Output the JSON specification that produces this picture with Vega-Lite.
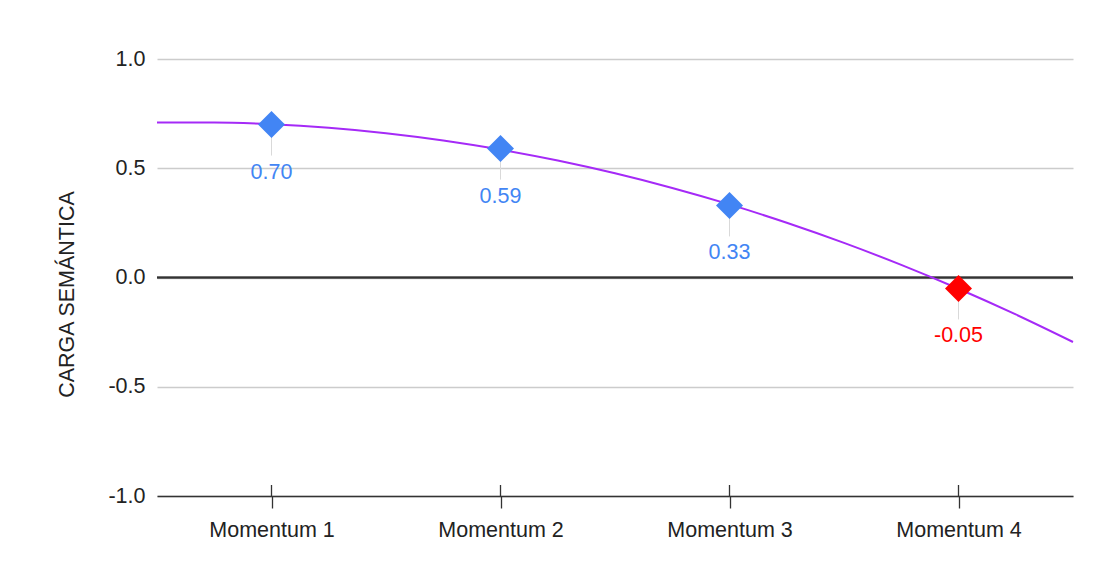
{
  "$schema": "https://vega.github.io/schema/vega-lite/v6.json",
  "autosize": "none",
  "width": 916,
  "height": 437,
  "padding": {"left": 157, "top": 59, "right": 26, "bottom": 90},
  "background": "white",
  "config": {
    "font": "Liberation Sans",
    "view": {"stroke": null},
    "axis": {"labelFont": "Liberation Sans", "titleFont": "Liberation Sans"}
  },
  "datasets": {
    "puntos": [
      {"momentum": 1, "carga": 0.70, "etiqueta": "0.70", "signo": "positivo"},
      {"momentum": 2, "carga": 0.59, "etiqueta": "0.59", "signo": "positivo"},
      {"momentum": 3, "carga": 0.33, "etiqueta": "0.33", "signo": "positivo"},
      {"momentum": 4, "carga": -0.05, "etiqueta": "-0.05", "signo": "negativo"}
    ],
    "tendencia": [
      {"momentum": 0.5, "carga": 0.7089},
      {"momentum": 0.75, "carga": 0.7094},
      {"momentum": 1.0, "carga": 0.7015},
      {"momentum": 1.25, "carga": 0.6852},
      {"momentum": 1.5, "carga": 0.6604},
      {"momentum": 1.75, "carga": 0.6272},
      {"momentum": 2.0, "carga": 0.5855},
      {"momentum": 2.25, "carga": 0.5354},
      {"momentum": 2.5, "carga": 0.4769},
      {"momentum": 2.75, "carga": 0.4099},
      {"momentum": 3.0, "carga": 0.3345},
      {"momentum": 3.25, "carga": 0.2507},
      {"momentum": 3.5, "carga": 0.1584},
      {"momentum": 3.75, "carga": 0.0577},
      {"momentum": 4.0, "carga": -0.0515},
      {"momentum": 4.25, "carga": -0.1691},
      {"momentum": 4.5, "carga": -0.2951}
    ]
  },
  "encoding": {
    "x": {
      "field": "momentum",
      "type": "quantitative",
      "scale": {"domain": [0.5, 4.5], "nice": false, "zero": false},
      "axis": {
        "title": null,
        "values": [1, 2, 3, 4],
        "labelExpr": "'Momentum ' + datum.value",
        "grid": false,
        "domainColor": "#333333",
        "domainWidth": 1.3,
        "tickColor": "#333333",
        "tickWidth": 1.3,
        "tickSize": 12,
        "labelPadding": 11,
        "labelFontSize": 21.5,
        "labelColor": "#222222"
      }
    },
    "y": {
      "field": "carga",
      "type": "quantitative",
      "scale": {"domain": [-1, 1], "nice": false},
      "axis": {
        "title": "CARGA SEMÁNTICA",
        "values": [-1, -0.5, 0, 0.5, 1],
        "labelExpr": "replace(format(datum.value, '.1f'), '−', '-')",
        "domain": false,
        "ticks": false,
        "grid": true,
        "gridColor": "#cccccc",
        "gridWidth": 1.3,
        "labelPadding": 12,
        "labelFontSize": 21.5,
        "labelColor": "#222222",
        "titleFontSize": 21.5,
        "titleFontWeight": "normal",
        "titleColor": "#222222",
        "titleAngle": -90,
        "titleAlign": "center",
        "titleBaseline": "alphabetic",
        "titleX": -84,
        "titleY": 235
      }
    }
  },
  "layer": [
    {
      "data": {"name": "puntos"},
      "mark": {"type": "rule", "color": "#333333", "strokeWidth": 1.3},
      "encoding": {"x": null, "y": {"datum": 0}}
    },
    {
      "data": {"name": "puntos"},
      "mark": {"type": "rule", "color": "#333333", "strokeWidth": 1.3, "y2Offset": -11},
      "encoding": {"y": {"datum": -1}, "y2": {"datum": -1}}
    },
    {
      "data": {"name": "tendencia"},
      "mark": {"type": "line", "color": "#A52AF7", "strokeWidth": 2, "interpolate": "monotone"},
      "encoding": {}
    },
    {
      "data": {"name": "puntos"},
      "mark": {"type": "rule", "color": "#d9d9d9", "strokeWidth": 1, "y2Offset": 31},
      "encoding": {"y2": {"field": "carga"}}
    },
    {
      "data": {"name": "puntos"},
      "mark": {"type": "point", "shape": "diamond", "filled": true, "size": 730, "opacity": 1},
      "encoding": {
        "color": {
          "field": "signo",
          "type": "nominal",
          "scale": {"domain": ["positivo", "negativo"], "range": ["#4285F4", "#FF0000"]},
          "legend": null
        }
      }
    },
    {
      "data": {"name": "puntos"},
      "mark": {"type": "text", "baseline": "alphabetic", "align": "center", "dy": 54, "fontSize": 21.5},
      "encoding": {
        "text": {"field": "etiqueta"},
        "color": {
          "field": "signo",
          "type": "nominal",
          "scale": {"domain": ["positivo", "negativo"], "range": ["#4285F4", "#FF0000"]},
          "legend": null
        }
      }
    }
  ]
}
